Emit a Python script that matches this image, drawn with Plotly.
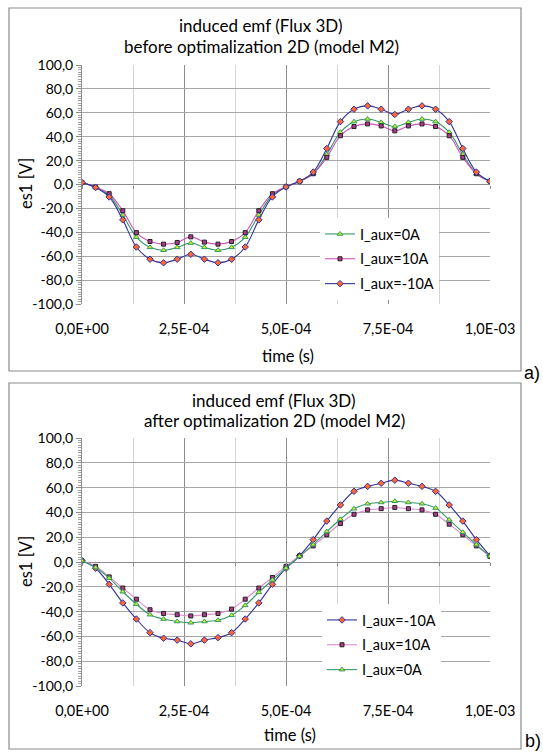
import plotly.graph_objects as go

# ---------------- data ----------------
time_s = [0.0, 3.333e-05, 6.667e-05, 1.0e-04, 1.3333e-04, 1.6667e-04, 2.0e-04, 2.3333e-04,
          2.6667e-04, 3.0e-04, 3.3333e-04, 3.6667e-04, 4.0e-04, 4.3333e-04, 4.6667e-04, 5.0e-04,
          5.3333e-04, 5.6667e-04, 6.0e-04, 6.3333e-04, 6.6667e-04, 7.0e-04, 7.3333e-04, 7.6667e-04,
          8.0e-04, 8.3333e-04, 8.6667e-04, 9.0e-04, 9.3333e-04, 9.6667e-04, 1.0e-03]

# chart a) before optimalization
a_0A = [1.6, -2.2, -9.0, -25.5, -44.1, -52.6, -55.0, -52.6, -49.0, -52.6, -55.0, -52.6, -44.1, -25.5, -9.0,
        -2.0, 2.7, 9.0, 25.2, 43.8, 52.6, 54.8, 52.0, 48.5, 52.0, 54.8, 52.6, 43.8, 25.2, 9.0, 2.7]
a_10A = [1.6, -2.2, -7.7, -21.9, -40.3, -47.7, -49.9, -48.5, -43.8, -48.2, -49.9, -47.7, -40.3, -21.9, -7.7,
         -2.0, 2.7, 9.0, 22.7, 40.8, 48.5, 50.7, 49.0, 44.9, 49.0, 50.7, 48.5, 40.8, 22.7, 9.0, 2.7]
a_m10A = [1.6, -2.5, -10.4, -29.6, -52.3, -62.5, -65.5, -62.5, -58.4, -62.5, -65.5, -62.5, -52.3, -29.6, -10.4,
          -2.0, 2.7, 10.4, 30.1, 52.6, 63.0, 65.8, 63.0, 58.6, 63.0, 65.8, 63.0, 52.6, 30.1, 10.4, 2.7]

# chart b) after optimalization
b_m10A = [1.0, -5.0, -18.0, -33.0, -46.0, -57.0, -61.5, -63.0, -66.0, -63.0, -61.0, -57.0, -46.0, -33.0, -18.0,
          -5.0, 5.0, 18.0, 33.0, 46.0, 57.0, 61.0, 63.5, 66.0, 63.5, 61.0, 57.0, 46.0, 33.0, 18.0, 5.0]
b_10A = [1.0, -3.5, -12.0, -21.0, -30.0, -38.5, -41.5, -42.5, -43.5, -42.5, -41.5, -38.0, -30.0, -21.0, -12.5,
         -3.5, 5.0, 13.0, 22.0, 31.0, 38.5, 42.0, 43.0, 44.0, 43.0, 42.0, 38.5, 30.5, 22.0, 13.0, 4.5]
b_0A = [1.0, -4.5, -13.0, -24.0, -34.0, -42.5, -46.0, -48.0, -49.0, -48.0, -47.0, -43.0, -35.0, -24.5, -14.5,
        -5.0, 4.5, 14.0, 24.5, 34.5, 43.0, 47.0, 48.0, 49.0, 48.0, 47.0, 43.5, 34.0, 24.0, 14.0, 4.5]

x_tickvals = [0.0, 2.5e-04, 5.0e-04, 7.5e-04, 1.0e-03]
x_ticktext = ["0,0E+00", "2,5E-04", "5,0E-04", "7,5E-04", "1,0E-03"]
y_tickvals = [100, 80, 60, 40, 20, 0, -20, -40, -60, -80, -100]
y_ticktext = ["100,0", "80,0", "60,0", "40,0", "20,0", "0,0", "-20,0", "-40,0", "-60,0", "-80,0", "-100,0"]

# ---------------- styles ----------------
W, H = 543, 753
FONT = "Lato"
TXT = "#000000"

style = {
    "0A": dict(line=dict(color="#339966", width=1.1, shape="spline", smoothing=1.0),
               marker=dict(symbol="triangle-up", size=5, color="#CCEE22", line=dict(color="#339966", width=1))),
    "10A": dict(line=dict(color="#CC55BB", width=1.1, shape="spline", smoothing=1.0),
                marker=dict(symbol="square", size=4, color="#B03A8C", line=dict(color="#222222", width=1))),
    "m10A": dict(line=dict(color="#333399", width=1.1, shape="spline", smoothing=1.0),
                 marker=dict(symbol="diamond", size=5, color="#FF6633", line=dict(color="#333399", width=1))),
}
style_b10 = dict(line=dict(color="#E08AD4", width=1.1, shape="spline", smoothing=1.0),
                 marker=dict(symbol="square", size=4, color="#B03A8C", line=dict(color="#222222", width=1)))

def px_x(p):
    return p / W

def px_y(p):
    return 1 - p / H

fig = go.Figure()

# top chart traces
for name, ys, key in [("I_aux=0A", a_0A, "0A"), ("I_aux=10A", a_10A, "10A"), ("I_aux=-10A", a_m10A, "m10A")]:
    fig.add_trace(go.Scatter(x=time_s, y=ys, name=name, mode="lines+markers",
                             xaxis="x", yaxis="y", legend="legend", legendgroup="a" + key,
                             line=style[key]["line"], marker=style[key]["marker"]))

# bottom chart traces
for name, ys, st in [("I_aux=-10A", b_m10A, style["m10A"]), ("I_aux=10A", b_10A, style_b10),
                     ("I_aux=0A", b_0A, style["0A"])]:
    fig.add_trace(go.Scatter(x=time_s, y=ys, name=name, mode="lines+markers",
                             xaxis="x2", yaxis="y2", legend="legend2", legendgroup="b" + name,
                             line=st["line"], marker=st["marker"]))

def xaxis_cfg(domain, anchor):
    return dict(domain=domain, anchor=anchor, range=[0, 1.0e-03], tickvals=x_tickvals, ticktext=x_ticktext,
                showgrid=True, gridcolor="#8C8C8C", gridwidth=1, zeroline=False, showline=False,
                ticks="", ticklabelstandoff=14, automargin=False,
                minor=dict(dtick=1.25e-04, tick0=0, showgrid=True, gridcolor="#D4D4D4", gridwidth=1, ticks=""),
                tickfont=dict(family=FONT, size=14.5, color=TXT))

def zero_axis_cfg(overlay, ydomain):
    # Excel-style horizontal axis crossing at 0 (tick marks only; labels stay at the bottom)
    return dict(overlaying=overlay, matches=overlay, anchor="free", position=(ydomain[0] + ydomain[1]) / 2,
                range=[0, 1.0e-03], tick0=0, dtick=1.25e-04, ticks="outside", ticklen=3,
                tickcolor="#8C8C8C", showticklabels=False, showgrid=False, zeroline=False,
                showline=False, automargin=False)

def yaxis_cfg(domain, anchor):
    return dict(domain=domain, anchor=anchor, range=[-100, 100], tickvals=y_tickvals, ticktext=y_ticktext,
                showgrid=True, gridcolor="#A6A6A6", gridwidth=1.3, zeroline=True, zerolinecolor="#8C8C8C",
                zerolinewidth=1.3,
                showline=True, linecolor="#8C8C8C", linewidth=1, automargin=False,
                ticks="outside", ticklen=5, tickcolor="#8C8C8C",
                minor=dict(dtick=2, tick0=0, ticks="outside", ticklen=3, tickcolor="#A6A6A6", showgrid=False),
                tickfont=dict(family=FONT, size=14, color=TXT))

xdom = [px_x(82), px_x(490)]
ydom_a = [px_y(304), px_y(65)]
ydom_b = [px_y(686), px_y(438)]
fig.update_layout(
    width=W, height=H,
    margin=dict(l=0, r=0, t=0, b=0),
    paper_bgcolor="white", plot_bgcolor="white",
    showlegend=True,
    xaxis=xaxis_cfg(xdom, "y"),
    yaxis=yaxis_cfg(ydom_a, "x"),
    xaxis2=xaxis_cfg(xdom, "y2"),
    yaxis2=yaxis_cfg(ydom_b, "x2"),
    xaxis3=zero_axis_cfg("x", ydom_a),
    xaxis4=zero_axis_cfg("x2", ydom_b),
    legend=dict(x=px_x(320), y=px_y(218), xanchor="left", yanchor="top", bgcolor="white",
                borderwidth=0, font=dict(family=FONT, size=14.5, color=TXT),
                traceorder="grouped", tracegroupgap=3),
    legend2=dict(x=px_x(322), y=px_y(604), xanchor="left", yanchor="top", bgcolor="white",
                 borderwidth=0, font=dict(family=FONT, size=14.5, color=TXT),
                 traceorder="grouped", tracegroupgap=3),
    shapes=[
        dict(type="rect", xref="paper", yref="paper", x0=px_x(9), x1=px_x(521), y0=px_y(371), y1=px_y(8),
             line=dict(color="#8C8C8C", width=1.2), fillcolor="rgba(0,0,0,0)", layer="below"),
        dict(type="rect", xref="paper", yref="paper", x0=px_x(9), x1=px_x(521), y0=px_y(749), y1=px_y(383),
             line=dict(color="#8C8C8C", width=1.2), fillcolor="rgba(0,0,0,0)", layer="below"),
    ],
)

# invisible helper traces so the crossing axes are drawn
for xa, ya in [("x3", "y"), ("x4", "y2")]:
    fig.add_trace(go.Scatter(x=[time_s[0]], y=[None], xaxis=xa, yaxis=ya, showlegend=False,
                             hoverinfo="skip", mode="lines"))

ann = []
def add_text(text, x, y, size=14, family=FONT, angle=0, xanchor="center"):
    ann.append(dict(text=text, x=px_x(x), y=px_y(y), xref="paper", yref="paper", showarrow=False,
                    xanchor=xanchor, yanchor="middle", textangle=angle,
                    font=dict(family=family, size=size, color=TXT)))

add_text("induced emf (Flux 3D)", 261, 26, size=17)
add_text("before optimalization 2D (model M2)", 261, 47, size=17)
add_text("time (s)", 288, 356, size=16.5)
add_text("es1 [V]", 26, 184, size=16.5, angle=-90)
add_text("a)", 532, 373, size=18, family="Liberation Sans")

add_text("induced emf (Flux 3D)", 274, 400, size=17)
add_text("after optimalization 2D (model M2)", 274, 421, size=17)
add_text("time (s)", 290, 735, size=16.5)
add_text("es1 [V]", 26, 562, size=16.5, angle=-90)
add_text("b)", 533, 741, size=18, family="Liberation Sans")

fig.update_layout(annotations=ann)
fig.write_html("out.html")
